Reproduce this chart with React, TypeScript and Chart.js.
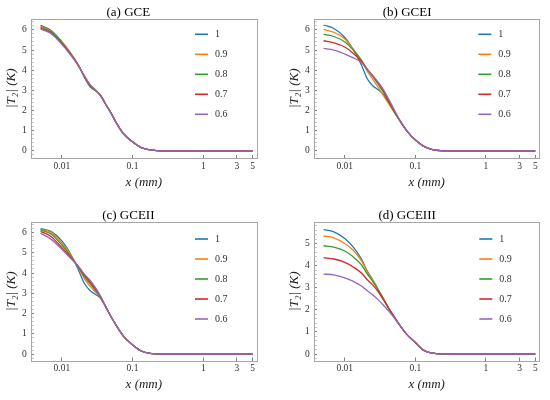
import { useEffect, useRef } from 'react'
import { Chart, registerables } from 'chart.js'

Chart.register(...registerables)

const SERIF = '"Liberation Serif", "DejaVu Serif", serif'

// x positions (mm) shared by every curve
const X_VALUES = [0.005, 0.007, 0.01, 0.013, 0.017, 0.021, 0.025, 0.03, 0.035, 0.042, 0.05, 0.06, 0.075, 0.1, 0.13, 0.17, 0.22, 0.3, 0.5, 1, 5]
const X_TICKS = [0.01, 0.1, 1, 3, 5]
const X_TICK_LABELS = ['0.01', '0.1', '1', '3', '5']
const X_MIN = 0.00366
const X_MAX = 5.7

const SERIES_LABELS = ['1', '0.9', '0.8', '0.7', '0.6']
const COLORS = ['#1f77b4', '#ff7f0e', '#2ca02c', '#d62728', '#9467bd']

const Y_TICKS_6 = [0, 1, 2, 3, 4, 5, 6]
const Y_TICKS_5 = [0, 1, 2, 3, 4, 5]

// (a) GCE
const GCE_1 = [6.22, 5.98, 5.42, 4.90, 4.28, 3.62, 3.18, 2.98, 2.78, 2.30, 1.86, 1.34, 0.84, 0.45, 0.18, 0.07, 0.02, 0, 0, 0, 0]
const GCE_09 = [6.17, 5.94, 5.39, 4.88, 4.27, 3.64, 3.21, 2.99, 2.77, 2.30, 1.86, 1.34, 0.84, 0.45, 0.18, 0.07, 0.02, 0, 0, 0, 0]
const GCE_08 = [6.13, 5.90, 5.36, 4.86, 4.26, 3.66, 3.24, 3.00, 2.76, 2.29, 1.85, 1.34, 0.84, 0.45, 0.18, 0.07, 0.02, 0, 0, 0, 0]
const GCE_07 = [6.08, 5.86, 5.32, 4.83, 4.25, 3.68, 3.27, 3.01, 2.75, 2.29, 1.85, 1.34, 0.84, 0.45, 0.18, 0.07, 0.02, 0, 0, 0, 0]
const GCE_06 = [6.04, 5.82, 5.28, 4.80, 4.24, 3.70, 3.30, 3.02, 2.74, 2.28, 1.85, 1.34, 0.84, 0.45, 0.18, 0.07, 0.02, 0, 0, 0, 0]

// (b) GCEI
const GCEI_1 = [6.24, 6.07, 5.62, 5.05, 4.30, 3.55, 3.22, 3.02, 2.80, 2.38, 1.94, 1.50, 1.01, 0.54, 0.24, 0.08, 0.02, 0, 0, 0, 0]
const GCEI_09 = [6.02, 5.88, 5.55, 5.08, 4.50, 3.93, 3.55, 3.12, 2.76, 2.33, 1.92, 1.50, 1.01, 0.54, 0.24, 0.08, 0.02, 0, 0, 0, 0]
const GCEI_08 = [5.78, 5.67, 5.40, 5.02, 4.52, 4.02, 3.68, 3.28, 2.92, 2.42, 1.96, 1.51, 1.01, 0.54, 0.24, 0.08, 0.02, 0, 0, 0, 0]
const GCEI_07 = [5.46, 5.36, 5.15, 4.85, 4.45, 4.03, 3.72, 3.35, 3.00, 2.48, 1.99, 1.52, 1.01, 0.54, 0.24, 0.08, 0.02, 0, 0, 0, 0]
const GCEI_06 = [5.08, 5.00, 4.80, 4.62, 4.40, 4.02, 3.72, 3.38, 3.05, 2.56, 2.05, 1.54, 1.02, 0.54, 0.24, 0.08, 0.02, 0, 0, 0, 0]

// (c) GCEII
const GCEII_1 = [6.18, 6.05, 5.58, 5.00, 4.18, 3.47, 3.14, 2.94, 2.77, 2.30, 1.82, 1.37, 0.87, 0.46, 0.17, 0.05, 0.01, 0, 0, 0, 0]
const GCEII_09 = [6.15, 6.00, 5.48, 4.96, 4.28, 3.70, 3.35, 3.05, 2.80, 2.31, 1.82, 1.37, 0.87, 0.46, 0.17, 0.05, 0.01, 0, 0, 0, 0]
const GCEII_08 = [6.12, 5.92, 5.38, 4.88, 4.32, 3.80, 3.48, 3.13, 2.84, 2.32, 1.82, 1.37, 0.87, 0.46, 0.17, 0.05, 0.01, 0, 0, 0, 0]
const GCEII_07 = [6.05, 5.80, 5.25, 4.80, 4.33, 3.88, 3.57, 3.20, 2.86, 2.32, 1.82, 1.37, 0.87, 0.46, 0.17, 0.05, 0.01, 0, 0, 0, 0]
const GCEII_06 = [5.95, 5.67, 5.17, 4.76, 4.35, 3.93, 3.65, 3.27, 2.88, 2.33, 1.83, 1.37, 0.87, 0.46, 0.17, 0.05, 0.01, 0, 0, 0, 0]

// (d) GCEIII
const GCEIII_1 = [5.63, 5.53, 5.23, 4.86, 4.33, 3.73, 3.35, 2.90, 2.52, 2.07, 1.69, 1.31, 0.90, 0.52, 0.18, 0.05, 0.01, 0, 0, 0, 0]
const GCEIII_09 = [5.34, 5.26, 5.00, 4.71, 4.25, 3.70, 3.34, 2.90, 2.52, 2.07, 1.69, 1.31, 0.90, 0.52, 0.18, 0.05, 0.01, 0, 0, 0, 0]
const GCEIII_08 = [4.90, 4.84, 4.66, 4.41, 4.06, 3.61, 3.28, 2.87, 2.51, 2.07, 1.69, 1.31, 0.90, 0.52, 0.18, 0.05, 0.01, 0, 0, 0, 0]
const GCEIII_07 = [4.36, 4.30, 4.15, 3.95, 3.68, 3.35, 3.12, 2.80, 2.47, 2.05, 1.68, 1.31, 0.90, 0.52, 0.18, 0.05, 0.01, 0, 0, 0, 0]
const GCEIII_06 = [3.62, 3.58, 3.45, 3.30, 3.09, 2.85, 2.67, 2.44, 2.22, 1.94, 1.64, 1.31, 0.90, 0.52, 0.18, 0.05, 0.01, 0, 0, 0, 0]

type PanelSpec = {
  title: string
  series: number[][]
  yMin: number
  yMax: number
  yTicks: number[]
  axisWidth: number
  rightPad: number
  titlePadTop: number
  xAxisHeight: number
  xTitlePad: number
  yTitlePad: number
  legendX: number
  legendY: number
}

const PANELS: PanelSpec[] = [
  {
    title: '(a) GCE', series: [GCE_1, GCE_09, GCE_08, GCE_07, GCE_06],
    yMin: -0.35, yMax: 6.56, yTicks: Y_TICKS_6,
    axisWidth: 31, rightPad: 18.3, titlePadTop: 6.85, xAxisHeight: 42, xTitlePad: 9.5, yTitlePad: 3.9,
    legendX: 195, legendY: 34.3,
  },
  {
    title: '(b) GCEI', series: [GCEI_1, GCEI_09, GCEI_08, GCEI_07, GCEI_06],
    yMin: -0.35, yMax: 6.56, yTicks: Y_TICKS_6,
    axisWidth: 39, rightPad: 10.7, titlePadTop: 6.85, xAxisHeight: 42, xTitlePad: 9.5, yTitlePad: 11.5,
    legendX: 203.3, legendY: 34.3,
  },
  {
    title: '(c) GCEII', series: [GCEII_1, GCEII_09, GCEII_08, GCEII_07, GCEII_06],
    yMin: -0.31, yMax: 6.52, yTicks: Y_TICKS_6,
    axisWidth: 31, rightPad: 18.3, titlePadTop: 10.15, xAxisHeight: 39.5, xTitlePad: 7.2, yTitlePad: 3.9,
    legendX: 195, legendY: 39,
  },
  {
    title: '(d) GCEIII', series: [GCEIII_1, GCEIII_09, GCEIII_08, GCEIII_07, GCEIII_06],
    yMin: -0.29, yMax: 5.98, yTicks: Y_TICKS_5,
    axisWidth: 39, rightPad: 10.7, titlePadTop: 10.15, xAxisHeight: 39.5, xTitlePad: 7.2, yTitlePad: 11.5,
    legendX: 204.3, legendY: 39,
  },
]

// grey frame round the plot area, like Mathematica's Frame -> True
const framePlugin = {
  id: 'frame',
  beforeDatasetsDraw(chart: Chart) {
    const { ctx, chartArea: a } = chart
    ctx.save()
    ctx.strokeStyle = '#a6a6a6'
    ctx.lineWidth = 1
    ctx.strokeRect(Math.round(a.left) + 0.5, Math.round(a.top) + 0.5, Math.round(a.right - a.left), Math.round(a.bottom - a.top))
    ctx.restore()
  },
}

// legend drawn inside the frame, one short line per series
const legendPlugin = {
  id: 'seriesLegend',
  afterDraw(chart: Chart, _args: unknown, opts: { x: number; y: number }) {
    const ctx = chart.ctx
    ctx.save()
    chart.data.datasets.forEach((ds, i) => {
      const y = opts.y + i * 20
      ctx.strokeStyle = ds.borderColor as string
      ctx.lineWidth = 1.6
      ctx.beginPath()
      ctx.moveTo(opts.x, y)
      ctx.lineTo(opts.x + 13, y)
      ctx.stroke()
      ctx.fillStyle = '#333'
      ctx.font = `10px ${SERIF}`
      ctx.textBaseline = 'middle'
      ctx.fillText(ds.label ?? '', opts.x + 20, y)
    })
    ctx.restore()
  },
}

function Panel({ spec }: { spec: PanelSpec }) {
  const canvasRef = useRef<HTMLCanvasElement>(null)

  useEffect(() => {
    if (!canvasRef.current) return
    const chart = new Chart(canvasRef.current, {
      type: 'line',
      data: {
        datasets: spec.series.map((vals, i) => ({
          label: SERIES_LABELS[i],
          data: X_VALUES.map((x, j) => ({ x, y: vals[j] })),
          borderColor: COLORS[i],
          backgroundColor: COLORS[i],
          borderWidth: 1.3,
          pointRadius: 0,
          fill: false,
          cubicInterpolationMode: 'monotone' as const,
          order: SERIES_LABELS.length - i,
        })),
      },
      options: {
        animation: false,
        responsive: false,
        layout: { padding: { left: 0, right: spec.rightPad, top: 0, bottom: 0 } },
        plugins: {
          legend: { display: false },
          tooltip: { enabled: false },
          title: {
            display: true,
            text: spec.title,
            color: '#000',
            font: { family: SERIF, size: 13, weight: 'normal', lineHeight: 0.9 },
            padding: { top: spec.titlePadTop, bottom: 0 },
          },
          // @ts-ignore custom plugin options
          seriesLegend: { x: spec.legendX, y: spec.legendY },
        },
        scales: {
          x: {
            type: 'logarithmic',
            min: X_MIN,
            max: X_MAX,
            afterBuildTicks: s => { s.ticks = X_TICKS.map(v => ({ value: v })) },
            afterFit: s => { s.height = spec.xAxisHeight },
            ticks: {
              autoSkip: false,
              maxRotation: 0,
              color: '#333',
              padding: 5.3,
              font: { family: SERIF, size: 9.5 },
              callback: v => X_TICK_LABELS[X_TICKS.indexOf(Number(v))] ?? '',
            },
            grid: { drawOnChartArea: false, tickLength: -3, tickColor: '#808080' },
            border: { display: false },
            title: {
              display: true,
              text: 'x (mm)',
              color: '#222',
              font: { family: SERIF, size: 13, style: 'italic' },
              padding: { top: 0, bottom: spec.xTitlePad },
            },
          },
          y: {
            type: 'linear',
            min: spec.yMin,
            max: spec.yMax,
            afterBuildTicks: s => {
              const ticks = []
              for (let k = Math.ceil(spec.yMin * 5); k <= Math.floor(spec.yMax * 5); k++) ticks.push({ value: k / 5 })
              s.ticks = ticks
            },
            afterFit: s => { s.width = spec.axisWidth },
            ticks: {
              autoSkip: false,
              color: '#333',
              padding: 7.2,
              font: { family: SERIF, size: 9.5 },
              callback: v => {
                const n = Number(v)
                return Math.abs(n - Math.round(n)) < 1e-6 && spec.yTicks.includes(Math.round(n)) ? String(Math.round(n)) : ''
              },
            },
            grid: {
              drawOnChartArea: false,
              tickLength: -3,
              tickColor: c => (Math.abs(c.tick.value - Math.round(c.tick.value)) < 1e-6 ? '#808080' : '#b0b0b0'),
              tickWidth: c => (Math.abs(c.tick.value - Math.round(c.tick.value)) < 1e-6 ? 1 : 0.7),
            },
            border: { display: false },
            title: {
              display: true,
              text: '|T₂| (K)',
              color: '#222',
              font: { family: SERIF, size: 13, style: 'italic' },
              padding: { top: spec.yTitlePad, bottom: 0 },
            },
          },
        },
      },
      plugins: [framePlugin, legendPlugin],
    })
    return () => chart.destroy()
  }, [spec])

  return <canvas ref={canvasRef} width={275} height={200} style={{ display: 'block' }} />
}

export default function App() {
  return (
    <div style={{ position: 'absolute', left: 0, top: 0, width: 550, height: 400, background: '#fff' }}>
      {PANELS.map((p, i) => (
        <div key={p.title} style={{ position: 'absolute', left: (i % 2) * 275, top: Math.floor(i / 2) * 200, width: 275, height: 200 }}>
          <Panel spec={p} />
        </div>
      ))}
    </div>
  )
}
